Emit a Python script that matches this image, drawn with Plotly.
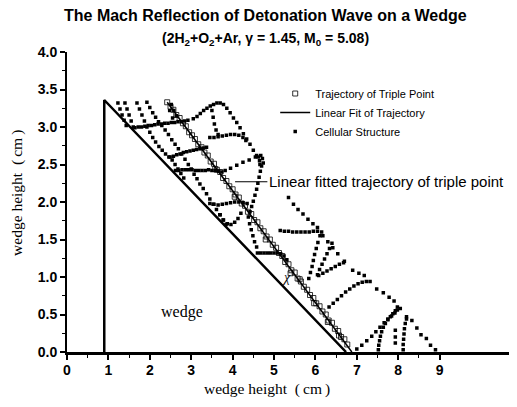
import plotly.graph_objects as go

# wedge outline
wedge_x = [0.9, 0.9, 6.74]
wedge_y = [0.0, 3.36, 0.0]

# trajectory of triple point (open squares)
traj_x = [2.42, 2.50, 2.57, 2.64, 2.72, 2.80, 2.87, 2.95, 3.02, 3.09, 3.17, 3.25, 3.32, 3.40, 3.47,
          3.55, 3.62, 3.70, 3.77, 3.85, 3.92, 4.00, 4.07, 4.15, 4.22, 4.30, 4.37, 4.45, 4.52, 4.60,
          4.67, 4.75, 4.82, 4.90, 4.97, 5.05, 5.12, 5.20, 5.27, 5.35, 5.42, 5.50, 5.57, 5.65, 5.72,
          5.80, 5.87, 5.95, 6.02, 6.10, 6.17, 6.25, 6.32, 6.40, 6.47, 6.55, 6.62, 6.70, 6.77,
          3.58, 4.05, 4.80, 5.40, 5.62, 5.97, 6.30, 6.57]
traj_y = [3.33, 3.27, 3.23, 3.16, 3.12, 3.05, 3.01, 2.93, 2.89, 2.84, 2.77, 2.73, 2.66, 2.62, 2.54,
          2.51, 2.43, 2.40, 2.32, 2.28, 2.21, 2.17, 2.10, 2.06, 1.98, 1.95, 1.87, 1.84, 1.76, 1.73,
          1.65, 1.61, 1.54, 1.50, 1.43, 1.39, 1.32, 1.28, 1.20, 1.17, 1.09, 1.06, 0.98, 0.94, 0.87,
          0.83, 0.76, 0.72, 0.65, 0.61, 0.54, 0.50, 0.42, 0.39, 0.31, 0.28, 0.20, 0.17, 0.10,
          2.44, 2.07, 1.50, 1.05, 0.97, 0.65, 0.40, 0.22]

# linear fit of trajectory
fit_x = [2.42, 6.88]
fit_y = [3.33, 0.0]

# cellular structure (small filled dots), one track per line
cell_x = (
    [1.23, 1.28, 1.33, 1.38, 1.43]
    + [1.40, 1.45, 1.50, 1.55, 1.60]
    + [1.69, 1.75, 1.81, 1.87, 1.93, 2.00, 2.07, 2.14, 2.22, 2.30, 2.38, 2.46, 2.54, 2.61, 2.68, 2.75, 2.82]
    + [1.93, 2.00, 2.07, 2.14, 2.21, 2.29, 2.37, 2.45, 2.53, 2.61, 2.69, 2.77, 2.85, 2.93, 3.00, 3.07,
       3.14, 3.21, 3.29, 3.37, 3.45, 3.53, 3.61, 3.69, 3.77, 3.84]
    + [1.64, 1.72, 1.80, 1.88, 1.96, 2.04, 2.12, 2.20, 2.28, 2.36, 2.44, 2.52, 2.60, 2.68, 2.76, 2.84, 2.92]
    + [2.49, 2.57, 2.65, 2.73, 2.81, 2.89, 2.97, 3.05, 3.13, 3.21, 3.29, 3.37]
    + [2.62, 2.70, 2.78, 2.86, 2.94, 3.02, 3.10, 3.18, 3.26, 3.34, 3.42, 3.50, 3.58, 3.66, 3.74, 3.82,
       3.95, 4.10, 4.25, 4.40, 4.55]
    + [3.05, 3.14, 3.22, 3.30, 3.38, 3.46, 3.54, 3.62, 3.70]
    + [3.78, 3.86, 3.94, 4.02, 4.10, 4.18, 4.26, 4.34, 4.42, 4.50, 4.58, 4.65]
    + [3.50, 3.53, 3.56, 3.60, 3.65]
    + [3.45, 3.55, 3.65, 3.75, 3.85, 3.95, 4.05, 4.15, 4.25, 4.32]
    + [4.62, 4.68, 4.72, 4.74, 4.66]
    + [4.70, 4.67, 4.64, 4.61, 4.58, 4.54, 4.50, 4.46, 4.42, 4.38]
    + [3.45, 3.55, 3.65, 3.75, 3.85, 3.95, 4.05, 4.15, 4.25, 4.35]
    + [3.70, 3.78, 3.87, 3.96, 4.05, 4.13, 4.20]
    + [4.41, 4.45, 4.49, 4.53, 4.58]
    + [4.60, 4.68, 4.76, 4.84, 4.92, 5.00, 5.08, 5.16, 5.24, 5.31]
    + [5.15, 5.25, 5.35, 5.45, 5.55, 5.65, 5.75, 5.85, 5.95, 6.05, 6.15]
    + [5.35, 5.47, 5.58, 5.70, 5.82, 5.94, 6.05, 6.18, 6.30, 6.42, 6.54, 6.70, 6.90, 7.05, 7.18, 7.32,
       7.48, 7.64, 7.78, 7.90, 8.05, 8.20, 8.33, 8.45, 8.55, 8.68, 8.78, 8.90]
    + [6.11, 6.06, 6.02, 5.98, 5.95, 5.92, 5.88, 5.84]
    + [6.40, 6.34, 6.28, 6.22, 6.16, 6.10, 6.05]
    + [6.08, 6.18, 6.28, 6.38, 6.48, 6.58, 6.68]
    + [6.33, 6.43, 6.53, 6.63, 6.73, 6.83, 6.93, 7.03, 7.13, 7.23]
    + [7.00, 7.12, 7.24, 7.36, 7.46, 7.56, 7.66, 7.75, 7.84, 7.92, 7.98]
    + [7.52, 7.53, 7.55, 7.57, 7.60, 7.64, 7.69, 7.75, 7.81, 7.87, 7.93, 7.98]
    + [7.93, 7.93, 7.93]
    + [8.12, 8.12, 8.13, 8.14, 8.15, 8.17, 8.20]
    + [2.52, 2.58, 2.64, 2.48, 2.55]
)
cell_y = (
    [3.32, 3.24, 3.16, 3.09, 3.02]
    + [3.32, 3.24, 3.16, 3.08, 3.00]
    + [3.32, 3.24, 3.16, 3.08, 3.00, 2.93, 2.86, 2.80, 2.74, 2.69, 2.64, 2.60, 2.56, 2.50, 2.44, 2.38, 2.32]
    + [3.33, 3.26, 3.19, 3.13, 3.07, 3.02, 2.96, 2.90, 2.83, 2.77, 2.71, 2.64, 2.57, 2.50, 2.44, 2.37,
       2.31, 2.24, 2.18, 2.11, 2.04, 1.97, 1.90, 1.83, 1.76, 1.70]
    + [2.99, 3.00, 3.00, 3.01, 3.02, 3.02, 3.03, 3.04, 3.04, 3.05, 3.05, 3.06, 3.06, 3.07, 3.07, 3.08, 3.09]
    + [2.60, 2.61, 2.63, 2.64, 2.66, 2.67, 2.68, 2.69, 2.70, 2.71, 2.72, 2.73]
    + [2.42, 2.42, 2.43, 2.43, 2.43, 2.43, 2.42, 2.42, 2.42, 2.42, 2.43, 2.42, 2.42, 2.41, 2.40, 2.42,
       2.45, 2.49, 2.53, 2.56, 2.60]
    + [3.11, 3.14, 3.18, 3.22, 3.25, 3.28, 3.30, 3.32, 3.32]
    + [3.30, 3.25, 3.19, 3.12, 3.06, 2.99, 2.91, 2.84, 2.77, 2.69, 2.62, 2.55]
    + [3.22, 3.13, 3.04, 2.96, 2.90]
    + [2.86, 2.86, 2.87, 2.88, 2.89, 2.90, 2.90, 2.89, 2.86, 2.82]
    + [2.60, 2.62, 2.58, 2.52, 2.50]
    + [2.48, 2.41, 2.33, 2.25, 2.17, 2.09, 2.01, 1.94, 1.87, 1.80]
    + [1.98, 1.97, 1.96, 1.97, 1.98, 1.99, 2.00, 2.00, 1.99, 1.98]
    + [1.83, 1.76, 1.71, 1.70, 1.73, 1.78, 1.85]
    + [1.71, 1.63, 1.55, 1.47, 1.40]
    + [1.32, 1.32, 1.32, 1.32, 1.32, 1.32, 1.32, 1.31, 1.28, 1.23]
    + [1.62, 1.61, 1.61, 1.60, 1.60, 1.60, 1.60, 1.60, 1.61, 1.61, 1.60]
    + [2.06, 1.97, 1.90, 1.84, 1.77, 1.71, 1.66, 1.55, 1.47, 1.39, 1.31, 1.21, 1.09, 1.05, 1.02, 0.94,
       0.84, 0.79, 0.73, 0.68, 0.58, 0.47, 0.42, 0.32, 0.23, 0.18, 0.09, 0.03]
    + [1.55, 1.46, 1.38, 1.30, 1.22, 1.14, 1.06, 0.98]
    + [1.45, 1.38, 1.31, 1.24, 1.17, 1.10, 1.03]
    + [1.02, 1.05, 1.08, 1.11, 1.14, 1.17, 1.19]
    + [0.60, 0.65, 0.70, 0.75, 0.80, 0.84, 0.88, 0.91, 0.93, 0.94]
    + [0.04, 0.09, 0.15, 0.21, 0.27, 0.33, 0.39, 0.44, 0.48, 0.52, 0.56]
    + [0.03, 0.09, 0.15, 0.21, 0.27, 0.33, 0.38, 0.43, 0.47, 0.51, 0.55, 0.60]
    + [0.12, 0.20, 0.29]
    + [0.03, 0.10, 0.17, 0.24, 0.31, 0.38, 0.44]
    + [3.30, 3.22, 3.15, 3.22, 3.12]
)

x_ticks = [0, 1, 2, 3, 4, 5, 6, 7, 8, 9]
x_minor = [0.5, 1.5, 2.5, 3.5, 4.5, 5.5, 6.5, 7.5, 8.5]
y_ticks = [0.0, 0.5, 1.0, 1.5, 2.0, 2.5, 3.0, 3.5, 4.0]
y_minor = [0.25, 0.75, 1.25, 1.75, 2.25, 2.75, 3.25, 3.75]

sans = "Liberation Sans, Arial, sans-serif"
serif = "Liberation Serif, Times New Roman, serif"
axis_title = "wedge height\u2002(\u2009cm\u2009)"

fig = go.Figure()

fig.add_trace(go.Scatter(
    x=wedge_x, y=wedge_y, mode="lines", line=dict(color="black", width=2.5),
    showlegend=False, cliponaxis=False))

fig.add_trace(go.Scatter(
    x=traj_x, y=traj_y, mode="markers", name="Trajectory of Triple Point",
    marker=dict(symbol="square-open", size=5, color="black", line=dict(width=0.8))))

fig.add_trace(go.Scatter(
    x=fit_x, y=fit_y, mode="lines", name="Linear Fit of Trajectory",
    line=dict(color="black", width=1.5)))

fig.add_trace(go.Scatter(
    x=cell_x, y=cell_y, mode="markers", name="Cellular Structure",
    marker=dict(symbol="square", size=3.5, color="black")))

# the page body adds an 8px margin, so the figure is drawn 8px smaller
fig.update_layout(
    width=509, height=399,
    margin=dict(l=59, r=7, t=44, b=55),
    paper_bgcolor="white", plot_bgcolor="white",
    hovermode=False,
    legend=dict(x=0.47, y=0.91, xanchor="left", yanchor="top",
                font=dict(family=sans, size=11, color="black"),
                bgcolor="rgba(0,0,0,0)", itemwidth=30),
    annotations=[
        dict(text="<b>The Mach Reflection of Detonation Wave on a Wedge</b>",
             xref="paper", yref="paper", x=0.449, y=1.123, xanchor="center", yanchor="middle",
             showarrow=False, font=dict(family=sans, size=16, color="black")),
        dict(text="<b>(2H<sub>2</sub>+O<sub>2</sub>+Ar, γ = 1.45, M<sub>0</sub> = 5.08)</b>",
             xref="paper", yref="paper", x=0.449, y=1.044, xanchor="center", yanchor="middle",
             showarrow=False, font=dict(family=sans, size=14, color="black")),
        dict(text=axis_title, xref="paper", yref="paper", x=-0.113, y=0.53,
             xanchor="center", yanchor="middle", textangle=-90, showarrow=False,
             font=dict(family=serif, size=15.5, color="black")),
        dict(text=axis_title, xref="paper", yref="paper", x=0.451, y=-0.122,
             xanchor="center", yanchor="middle", showarrow=False,
             font=dict(family=serif, size=15.5, color="black")),
        dict(text="wedge", x=2.78, y=0.53, showarrow=False,
             font=dict(family=serif, size=16, color="black")),
        dict(text="<i>χ</i>", x=5.3, y=1.0, showarrow=False,
             font=dict(family=serif, size=14, color="black")),
        dict(text="Linear fitted trajectory of triple point", x=4.06, y=2.27,
             ax=4.84, ay=2.27, axref="x", ayref="y", xanchor="left", yanchor="middle",
             showarrow=True, arrowhead=0, arrowwidth=1, arrowcolor="black",
             font=dict(family=sans, size=15, color="black")),
    ],
)

fig.update_xaxes(
    range=[0, 10.7], showgrid=False, zeroline=False,
    showline=True, linecolor="black", linewidth=3,
    tickmode="array", tickvals=x_ticks, ticktext=[str(v) for v in x_ticks],
    ticks="outside", ticklen=5, tickwidth=1.5, tickcolor="black", ticklabelstandoff=-2,
    tickfont=dict(family=sans, size=14, color="black", weight="bold"),
    minor=dict(tickmode="array", tickvals=x_minor, ticks="outside", ticklen=3,
               tickwidth=1, tickcolor="black"),
)
fig.update_yaxes(
    range=[0, 4.0], showgrid=False, zeroline=False,
    showline=True, linecolor="black", linewidth=2,
    tickmode="array", tickvals=y_ticks, ticktext=[f"{v:.1f}" for v in y_ticks],
    ticks="outside", ticklen=5, tickwidth=1.5, tickcolor="black",
    tickfont=dict(family=sans, size=14, color="black", weight="bold"),
    minor=dict(tickmode="array", tickvals=y_minor, ticks="outside", ticklen=3,
               tickwidth=1, tickcolor="black"),
)

fig.write_html("out.html")
